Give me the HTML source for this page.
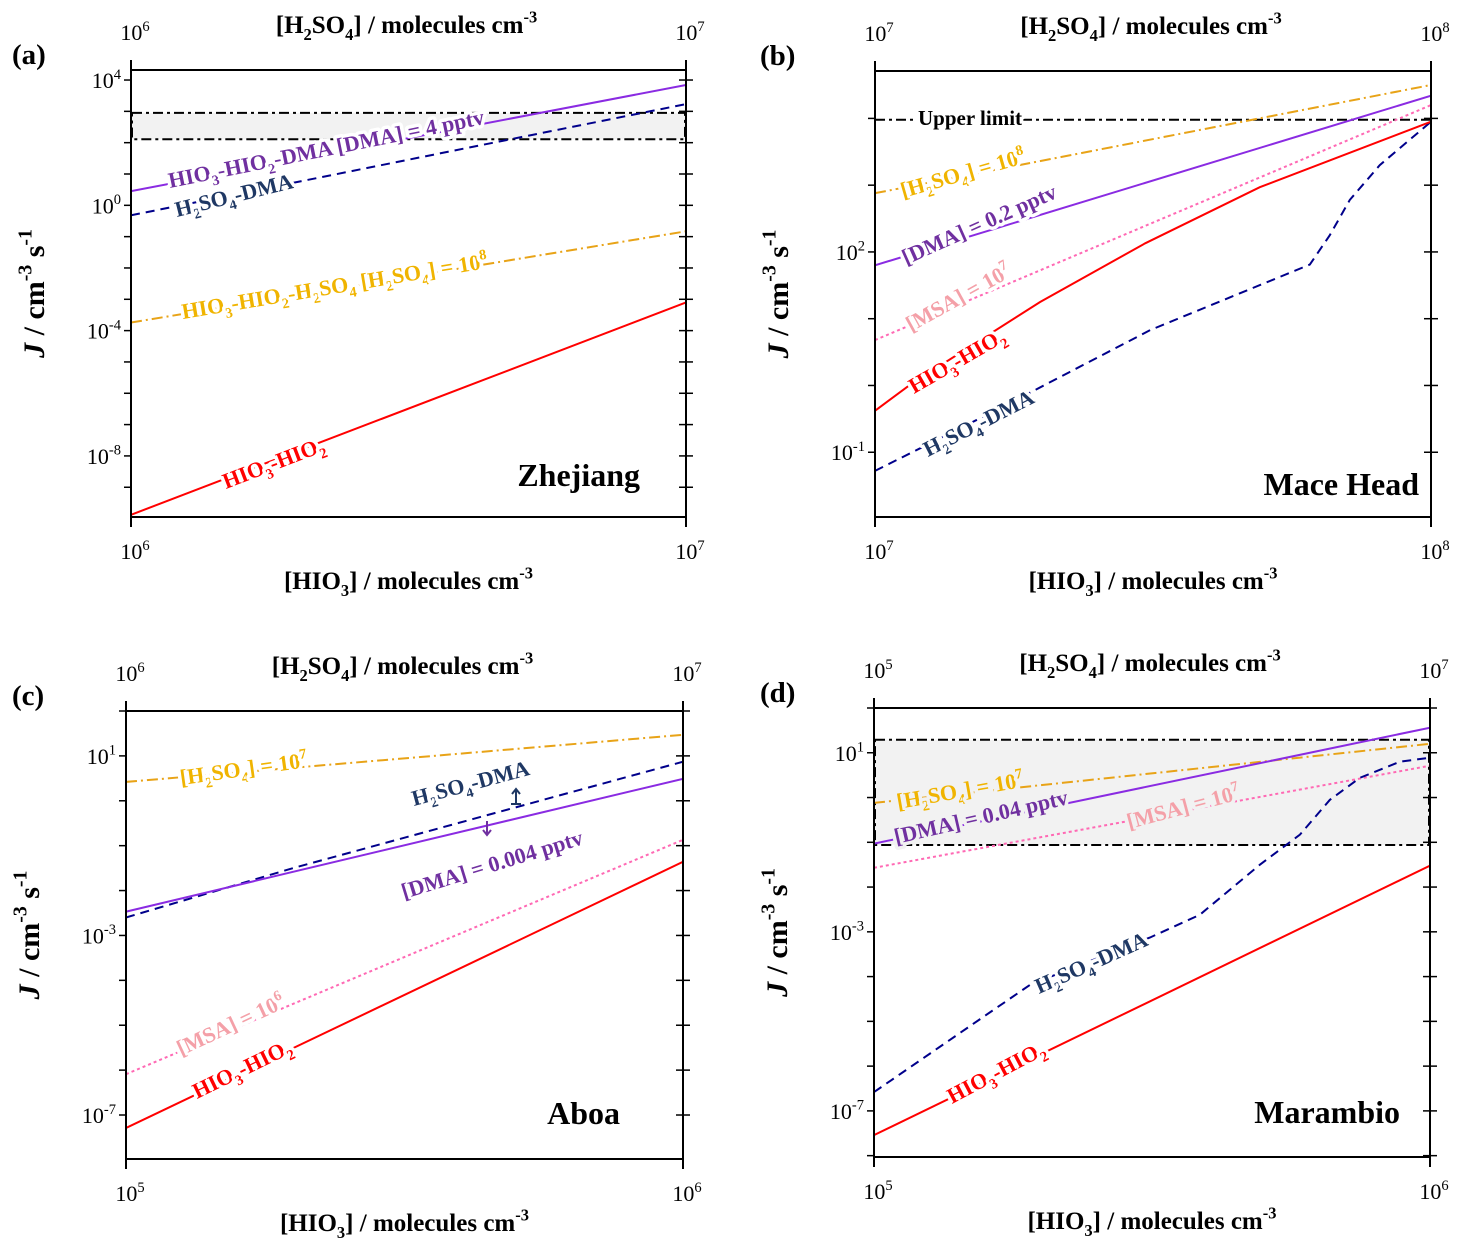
<!DOCTYPE html>
<html><head><meta charset="utf-8">
<style>
html,body{margin:0;padding:0;background:#fff;}
svg{display:block;font-family:"Liberation Serif",serif;}
</style></head>
<body>
<svg id="fig" width="1461" height="1251" viewBox="0 0 1461 1251" xmlns="http://www.w3.org/2000/svg"></svg>
<script>
// ---------- DATA (x = log10 [HIO3], y = log10 J) ----------
// Panel a (Zhejiang)
const aRed = [[6,-9.88],[7,-3.1]];
const aPurple = [[6,0.45],[7,3.84]];
const aNavy = [[6,-0.32],[7,3.23]];
const aOrange = [[6,-3.74],[7,-0.83]];
const aBand = [2.11,2.95];
// Panel b (Mace Head)
const bRed = [[7,-0.38],[7.063,0.01],[7.297,1.25],[7.486,2.13],[7.692,2.97],[8,3.95]];
const bNavy = [[7,-1.28],[7.225,-0.34],[7.495,0.83],[7.782,1.81],[7.818,2.25],[7.854,2.78],[7.908,3.30],[8,3.95]];
const bOrange = [[7,2.88],[8,4.5]];
const bPurple = [[7,1.8],[8,4.34]];
const bPink = [[7,0.68],[8,4.2]];
const bLimit = 3.98;
// Panel c (Aboa)
const cOrange = [[5,0.42],[6,1.47]];
const cNavy = [[5,-2.6],[5.3,-1.5],[6,0.87]];
const cPurple = [[5,-2.47],[6,0.49]];
const cPink = [[5,-6.09],[6,-0.87]];
const cRed = [[5,-7.29],[6,-1.36]];
// Panel d (Marambio)
const dOrange = [[5,-0.12],[6,1.2]];
const dPurple = [[5,-1.03],[6,1.56]];
const dPink = [[5,-1.57],[6,0.71]];
const dRed = [[5,-7.54],[6,-1.52]];
const dNavy = [[5,-6.58],[5.137,-5.41],[5.281,-4.18],[5.496,-3.13],[5.586,-2.62],[5.694,-1.5],[5.766,-0.83],[5.82,-0.05],[5.874,0.44],[5.946,0.8],[6,0.89]];
const dBand = [-1.06,1.29];
// Tick labels
const aYTicks = [4,0,-4,-8];
const bYTicks = [2,-1];
const cYTicks = [1,-3,-7];
const dYTicks = [1,-3,-7];
const aTop = [6,7], bTop = [7,8], cTop = [6,7], dTop = [5,7];
const aBot = [6,7], bBot = [7,8], cBot = [5,6], dBot = [5,6];

// ---------- RENDER ----------
const NS = "http://www.w3.org/2000/svg";
const svg = document.getElementById('fig');
function mk(tag, attrs, parent){
  const e = document.createElementNS(NS, tag);
  for (const k in attrs) e.setAttribute(k, attrs[k]);
  (parent||svg).appendChild(e);
  return e;
}
// rich text: _N subscript, ^N superscript (N = optional minus + digits)
function rich(t, s){
  const re = /([_^])(-?\d+)|([^_^]+)/g;
  let m, shift = 0;
  while ((m = re.exec(s))){
    const ts = document.createElementNS(NS,'tspan');
    let kind = m[1] || null, txt = m[1] ? m[2] : m[3];
    let target = kind==='_' ? 0.28 : kind==='^' ? -0.42 : 0;
    if (kind){ ts.setAttribute('font-size','0.66em'); ts.setAttribute('dy', ((target-shift)/0.66).toFixed(3)+'em'); }
    else ts.setAttribute('dy', (target-shift).toFixed(3)+'em');
    shift = target;
    ts.textContent = txt;
    t.appendChild(ts);
  }
  return t;
}

function panel(cfg){
  const g = mk('g',{});
  
  
  const {x0,x1,y0,y1,xmin,xmax,ytop,ybot} = cfg;
  const X = v => x0 + (v - xmin)/(xmax - xmin)*(x1-x0);
  const Y = v => y0 + (ytop - v)/(ytop - ybot)*(y1-y0);
  const clip = 'clip-'+cfg.id;
  const cp = mk('clipPath',{id:clip},g); mk('rect',{x:x0,y:y0,width:x1-x0,height:y1-y0},cp);
  if (cfg.band){
    const r = mk('rect',{x:x0+1,y:Y(cfg.band[1]),width:x1-x0-2,height:Y(cfg.band[0])-Y(cfg.band[1]),fill:'#f2f2f2',stroke:'#000','stroke-width':2,'stroke-dasharray':'10,4,3,4'},g);
    
    
  }
  if (cfg.limit!==undefined){
    const l = mk('line',{x1:x0,x2:x1,y1:Y(cfg.limit),y2:Y(cfg.limit),stroke:'#000','stroke-width':2,'stroke-dasharray':'10,4,3,4'},g);
    
    
  }
  const styles = {
    red:{c:'#ff0000',d:''}, purple:{c:'#8a2be2',d:''}, navy:{c:'#00008b',d:'9,6'},
    orange:{c:'#e8a317',d:'11,4,2,4'}, pink:{c:'#ff69b4',d:'3,3'}
  };
  cfg.series.forEach(s=>{
    const st = styles[s.k];
    const p = mk('path',{d:s.data.map((pt,i)=>(i?'L':'M')+X(pt[0]).toFixed(1)+','+Y(pt[1]).toFixed(1)).join(''),
      fill:'none',stroke:st.c,'stroke-width':2,'stroke-dasharray':st.d,'clip-path':'url(#'+clip+')'},g);
    
    
  });
  cfg.labels.forEach(l=>{
    const t = mk('text',{x:l.x,y:l.y,transform:`rotate(${l.a} ${l.x} ${l.y})`,'font-size':l.fs||22,'font-weight':'bold',
      fill:l.c,stroke:l.bg||'#fff','stroke-width':7,'paint-order':'stroke','stroke-linejoin':'round'},g);
    
    
    rich(t, l.t);
  });
  const fr = mk('rect',{x:x0,y:y0,width:x1-x0,height:y1-y0,fill:'none',stroke:'#000','stroke-width':2},g);
  
  
  for (let v=Math.ceil(ybot); v<=Math.floor(ytop); v++){
    mk('line',{x1:x0-7,x2:x0,y1:Y(v),y2:Y(v),stroke:'#000','stroke-width':1.5},g);
    mk('line',{x1:x1-7,x2:x1+7,y1:Y(v),y2:Y(v),stroke:'#000','stroke-width':1.5},g);
  }
  cfg.yt.forEach(v=>{
    const t = mk('text',{x:x0-10,y:Y(v)+8,'text-anchor':'end','font-size':22,fill:'#000'},g);
    
    
    rich(t,'10^'+v);
  });
  [x0,x1].forEach((px,i)=>{
    mk('line',{x1:px,x2:px,y1:y1,y2:y1+10,stroke:'#000','stroke-width':2},g);
    mk('line',{x1:px,x2:px,y1:y0-10,y2:y0,stroke:'#000','stroke-width':2},g);
    const tb = mk('text',{x:px+4,y:y1+42,'text-anchor':'middle','font-size':22},g);
    
    
    rich(tb,'10^'+cfg.bot[i]);
    const tt = mk('text',{x:px+4,y:y0-30,'text-anchor':'middle','font-size':22},g);
    
    
    rich(tt,'10^'+cfg.top[i]);
  });
  const cx=(x0+x1)/2;
  const xt = mk('text',{x:cx,y:y1+72,'text-anchor':'middle','font-size':25,'font-weight':'bold'},g);
  
  
  rich(xt,'[HIO_3] / molecules cm^-3');
  const tt = mk('text',{x:cx-2,y:y0-37,'text-anchor':'middle','font-size':25,'font-weight':'bold'},g);
  
  
  rich(tt,'[H_2SO_4] / molecules cm^-3');
  const yx = x0-87, yy=(y0+y1)/2;
  const yl = mk('text',{x:yx,y:yy,'text-anchor':'middle','font-size':30,'font-weight':'bold',transform:`rotate(-90 ${yx} ${yy})`},g);
  
  
  const j = document.createElementNS(NS,'tspan'); j.setAttribute('font-style','italic'); j.textContent='J'; yl.appendChild(j);
  rich(yl,' / cm^-3 s^-1');
  const pl = mk('text',{x:cfg.lx,y:y0-6,'font-size':29,'font-weight':'bold'},g);
  
  
  pl.textContent = cfg.letter;
  const sn = mk('text',{x:cfg.sx,y:cfg.sy,'text-anchor':'end','font-size':32,'font-weight':'bold'},g);
  
  
  sn.textContent = cfg.site;
  return {g,X,Y};
}

const PUR='#7030a0', NAV='#1f3864', ORA='#f0b400', PNK='#f4a0a8', RED='#ff0000';

panel({id:'a',name:'panel-a-zhejiang',letter:'(a)',lx:12,site:'Zhejiang',sx:640,sy:486,
  x0:131,x1:686,y0:70,y1:517,xmin:6,xmax:7,ytop:4.32,ybot:-9.95,yt:aYTicks,top:aTop,bot:aBot,band:aBand,
  series:[{k:'orange',data:aOrange},{k:'navy',data:aNavy},{k:'purple',data:aPurple},{k:'red',data:aRed}],
  labels:[
    {n:'label-hio3-hio2-dma',t:'HIO_3-HIO_2-DMA [DMA] = 4 pptv',x:170,y:188,a:-11.5,c:PUR},
    {n:'label-h2so4-dma',t:'H_2SO_4-DMA',x:177,y:217,a:-14,c:NAV},
    {n:'label-hio3-hio2-h2so4',t:'HIO_3-HIO_2-H_2SO_4 [H_2SO_4] = 10^8',x:183,y:319,a:-9.5,c:ORA},
    {n:'label-hio3-hio2',t:'HIO_3-HIO_2',x:226,y:489,a:-21,c:RED}
  ]});

panel({id:'b',name:'panel-b-mace-head',letter:'(b)',lx:760,site:'Mace Head',sx:1419,sy:495,
  x0:875,x1:1431,y0:71,y1:517,xmin:7,xmax:8,ytop:4.71,ybot:-1.97,yt:bYTicks,top:bTop,bot:bBot,limit:bLimit,
  series:[{k:'navy',data:bNavy},{k:'pink',data:bPink},{k:'orange',data:bOrange},{k:'purple',data:bPurple},{k:'red',data:bRed}],
  labels:[
    {n:'label-upper-limit',t:'Upper limit',x:918,y:125,a:0,c:'#000',fs:21},
    {n:'label-h2so4-conc',t:'[H_2SO_4] = 10^8',x:903,y:198,a:-16,c:ORA},
    {n:'label-dma-conc',t:'[DMA] = 0.2 pptv',x:906,y:265,a:-24,c:PUR},
    {n:'label-msa-conc',t:'[MSA] = 10^7',x:911,y:332,a:-29,c:PNK},
    {n:'label-hio3-hio2',t:'HIO_3-HIO_2',x:914,y:394,a:-30,c:RED},
    {n:'label-h2so4-dma',t:'H_2SO_4-DMA',x:928,y:457,a:-27,c:NAV}
  ]});

panel({id:'c',name:'panel-c-aboa',letter:'(c)',lx:12,site:'Aboa',sx:620,sy:1124,
  x0:126,x1:683,y0:711,y1:1159,xmin:5,xmax:6,ytop:2,ybot:-7.98,yt:cYTicks,top:cTop,bot:cBot,
  series:[{k:'orange',data:cOrange},{k:'pink',data:cPink},{k:'navy',data:cNavy},{k:'purple',data:cPurple},{k:'red',data:cRed}],
  labels:[
    {n:'label-h2so4-conc',t:'[H_2SO_4] = 10^7',x:181,y:785,a:-8,c:ORA},
    {n:'label-h2so4-dma',t:'H_2SO_4-DMA',x:414,y:806,a:-15,c:NAV},
    {n:'label-dma-conc',t:'[DMA] = 0.004 pptv',x:404,y:899,a:-17,c:PUR},
    {n:'label-msa-conc',t:'[MSA] = 10^6',x:181,y:1056,a:-25,c:PNK},
    {n:'label-hio3-hio2',t:'HIO_3-HIO_2',x:197,y:1099,a:-26,c:RED}
  ]});
const ar1 = mk('path',{d:'M516,804 L516,789 M512,794 L516,789 L520,794 M511,804 L521,804',stroke:NAV,'stroke-width':2,fill:'none'});


const ar2 = mk('path',{d:'M487,821 L487,835 M483,830 L487,835 L491,830',stroke:PUR,'stroke-width':2,fill:'none'});



panel({id:'d',name:'panel-d-marambio',letter:'(d)',lx:760,site:'Marambio',sx:1400,sy:1123,
  x0:874,x1:1430,y0:708,y1:1157,xmin:5,xmax:6,ytop:2.0,ybot:-8.03,yt:dYTicks,top:dTop,bot:dBot,band:dBand,
  series:[{k:'pink',data:dPink},{k:'orange',data:dOrange},{k:'navy',data:dNavy},{k:'purple',data:dPurple},{k:'red',data:dRed}],
  labels:[
    {n:'label-h2so4-conc',t:'[H_2SO_4] = 10^7',x:898,y:809,a:-10,c:ORA,bg:'#f2f2f2'},
    {n:'label-dma-conc',t:'[DMA] = 0.04 pptv',x:896,y:844,a:-13,c:PUR,bg:'#f2f2f2'},
    {n:'label-msa-conc',t:'[MSA] = 10^7',x:1129,y:829,a:-15,c:PNK,bg:'#f2f2f2'},
    {n:'label-h2so4-dma',t:'H_2SO_4-DMA',x:1039,y:994,a:-24,c:NAV},
    {n:'label-hio3-hio2',t:'HIO_3-HIO_2',x:952,y:1104,a:-28,c:RED}
  ]});
</script>
</body></html>
